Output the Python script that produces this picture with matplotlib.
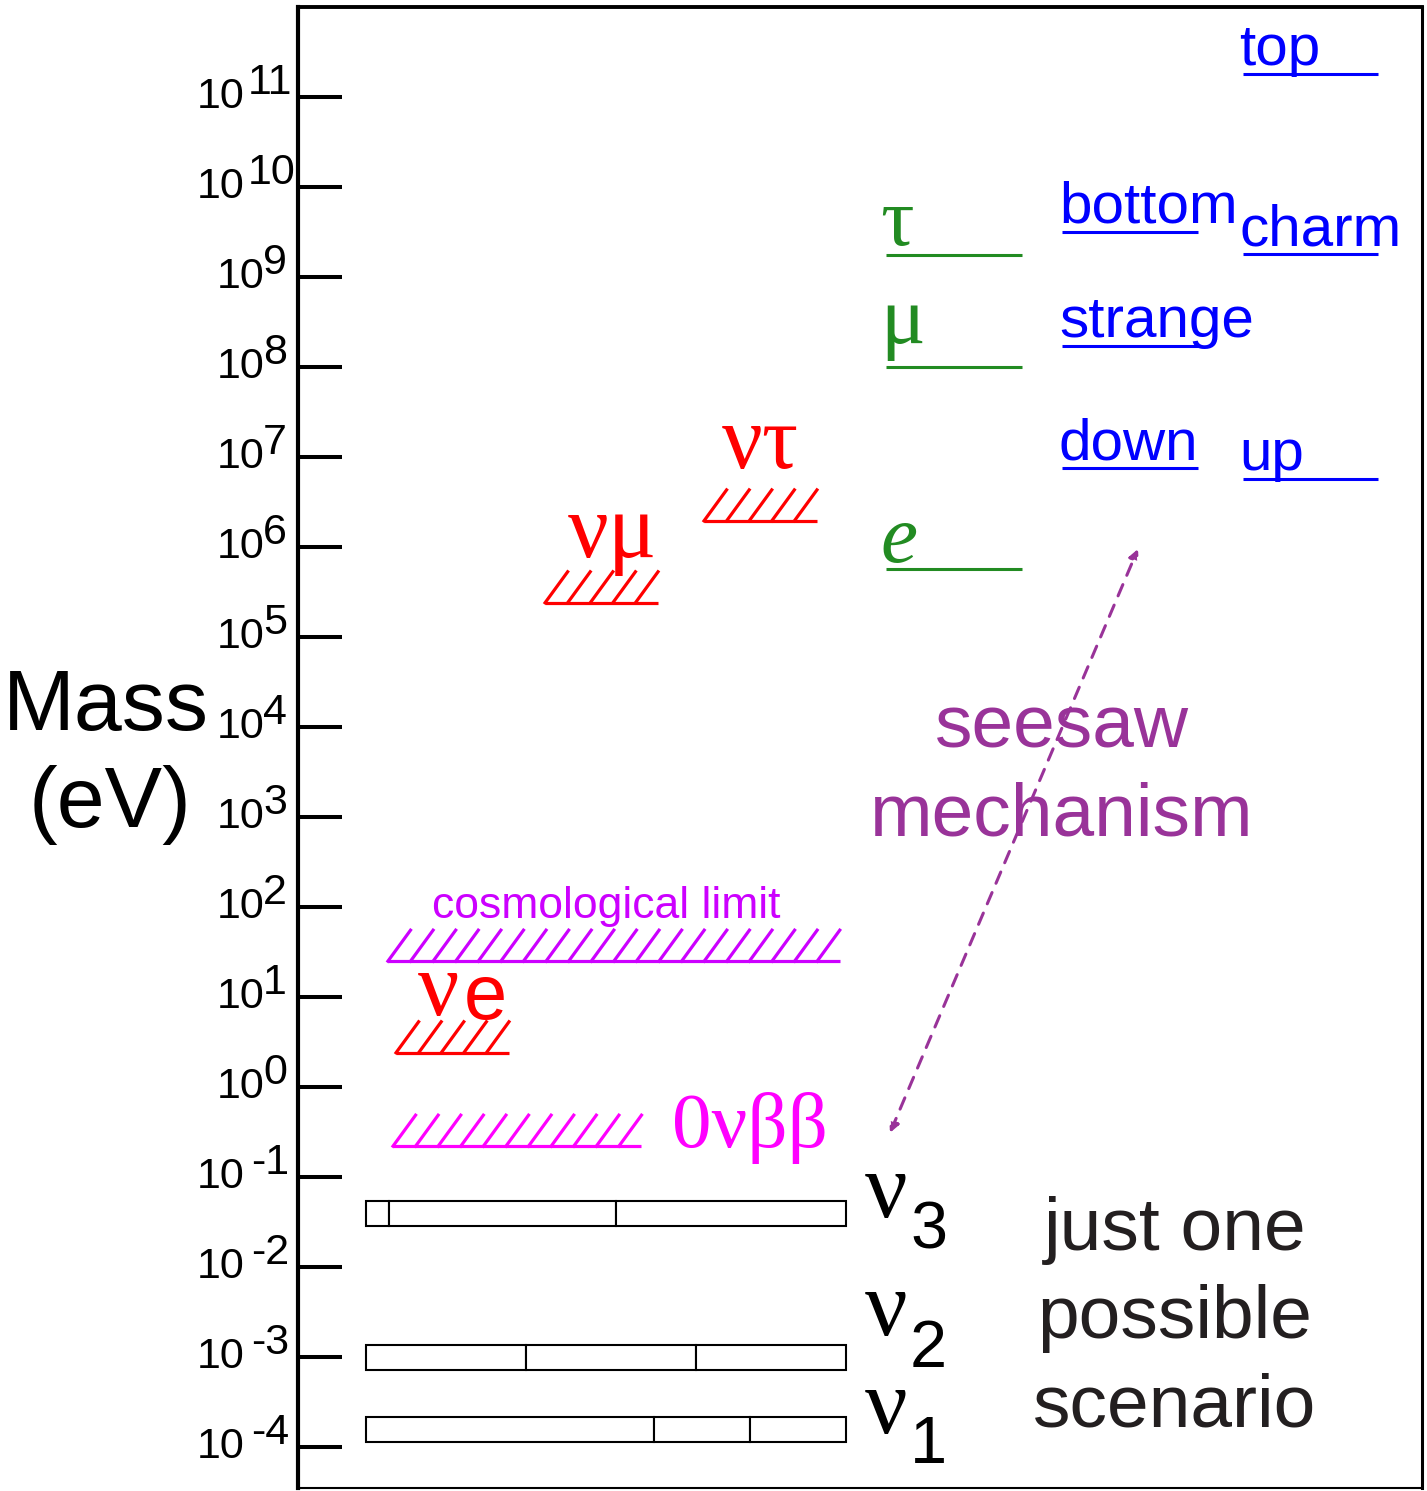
import matplotlib
matplotlib.use("Agg")
import matplotlib.pyplot as plt
from matplotlib.ticker import NullLocator

SANS = "Liberation Sans"
SERIF = "Liberation Serif"
PT = 72 / 100  # points per pixel at dpi=100

# y ticks, one per decade (eV)
decades = list(range(-4, 12))

# light neutrino mass states (eV) with flavour content (e, mu, tau)
nu_names = ["3", "2", "1"]
nu_masses = [0.039, 0.00098, 0.000155]
nu_fractions = [[0.048, 0.473, 0.479],
                [0.333, 0.354, 0.313],
                [0.60, 0.20, 0.20]]

# experimental upper limits (eV)
cosmo_limit = 25.0
nue_limit = 2.4
bb0nu_limit = 0.22
numu_limit = 2.4e5
nutau_limit = 1.95e6

# charged leptons (eV)
lepton_names = ["τ", "μ", "e"]
lepton_masses = [1.76e9, 1.0e8, 5.7e5]

# quarks (eV)
quark_names = ["top", "bottom", "charm", "strange", "down", "up"]
quark_masses = [1.8e11, 3.2e9, 1.8e9, 1.7e8, 7.5e6, 5.7e6]
quark_column = [1, 0, 1, 0, 0, 1]

# seesaw arrow ends (eV)
seesaw_low = 0.31
seesaw_high = 9.5e5

RED = "#ff0000"
MAGENTA = "#ff00ff"
VIOLET = "#cc00ff"
GREEN = "#228b22"
BLUE = "#0000ff"
PURPLE = "#993399"

fig = plt.figure(figsize=(14.27, 14.91), dpi=100)
ax = fig.add_axes([298 / 1427, 3 / 1491, 1124 / 1427, 1481 / 1491])
ax.set_yscale("log")
ax.set_ylim(10 ** -4.4556, 1e12)
ax.set_xlim(0, 1)
ax.set_xticks([])
ax.set_yticks([10.0 ** k for k in decades])
ax.yaxis.set_minor_locator(NullLocator())
ax.tick_params(axis="y", direction="in", length=31.7, width=2.9, labelleft=False)
ax.spines["left"].set_linewidth(3.0)
ax.spines["top"].set_linewidth(2.8)
ax.spines["right"].set_linewidth(2.2)
ax.spines["bottom"].set_linewidth(1.5)

# tick labels as 10 + raised exponent
for k in decades:
    exp = str(k)
    if k >= 10:
        base_r, exp_l = 245, 248
    elif k >= 0:
        base_r, exp_l = 265, 263
    else:
        base_r, exp_l = 245, 251
    ax.annotate("10", xy=(0, 10.0 ** k), xycoords=("axes fraction", "data"),
                xytext=((base_r - 298) * PT, 0), textcoords="offset points",
                ha="right", va="center", fontsize=31, family=SANS, annotation_clip=False)
    ax.annotate(exp, xy=(0, 10.0 ** k), xycoords=("axes fraction", "data"),
                xytext=((exp_l - 298) * PT, 14 * PT), textcoords="offset points",
                ha="left", va="center", fontsize=31, family=SANS, annotation_clip=False)

ax.text(-0.1708, 0.5118, "Mass", transform=ax.transAxes, ha="center", va="baseline",
        fontsize=62, family=SANS)
ax.text(-0.1673, 0.4463, "(eV)", transform=ax.transAxes, ha="center", va="baseline",
        fontsize=62, family=SANS)

# neutrino mass states as segmented boxes
bar_x0, bar_w = 0.0605, 0.427
half = 10 ** (12.5 / 90)
nu_label_dy = [-3.5, 23, -3]
nu_sub_dy = [-34.5, -9, -33]
for name, m, fr, dy, sdy in zip(nu_names, nu_masses, nu_fractions, nu_label_dy, nu_sub_dy):
    lo, hi = m / half, m * half
    left = bar_x0
    for f in fr:
        ax.bar(left, hi - lo, width=f * bar_w, bottom=lo, align="edge",
               facecolor="white", edgecolor="black", linewidth=1.5)
        left += f * bar_w
    ax.annotate("ν", xy=(0.5045, m), xytext=(0, dy * PT), textcoords="offset points",
                ha="left", va="baseline", fontsize=68, family=SERIF)
    ax.annotate(name, xy=(0.5445, m), xytext=(0, sdy * PT), textcoords="offset points",
                ha="left", va="baseline", fontsize=48, family=SANS)


def limit_mark(x0, n, mass, color):
    step = 0.0201
    rise = 10 ** (31 / 90)
    ax.plot([x0, x0 + n * step], [mass, mass], color=color, lw=2.3,
            solid_capstyle="butt")
    for i in range(n):
        xb = x0 + i * step
        ax.plot([xb, xb + step], [mass, mass * rise], color=color, lw=2.3)


limit_mark(0.0800, 20, cosmo_limit, VIOLET)
limit_mark(0.0872, 5, nue_limit, RED)
limit_mark(0.0845, 11, bb0nu_limit, MAGENTA)
limit_mark(0.2198, 5, numu_limit, RED)
limit_mark(0.3612, 5, nutau_limit, RED)

ax.annotate("cosmological limit", xy=(0.274, cosmo_limit), xytext=(0, 43 * PT),
            textcoords="offset points", ha="center", va="baseline",
            fontsize=32, family=SANS, color=VIOLET)
ax.annotate("ν", xy=(0.1068, nue_limit), xytext=(0, 38 * PT), textcoords="offset points",
            ha="left", va="baseline", fontsize=66, family=SERIF, color=RED)
ax.annotate("e", xy=(0.1477, nue_limit), xytext=(0, 34 * PT), textcoords="offset points",
            ha="left", va="baseline", fontsize=56, family=SANS, color=RED)
ax.annotate("νμ", xy=(0.2402, numu_limit), xytext=(0, 46 * PT), textcoords="offset points",
            ha="left", va="baseline", fontsize=65, family=SERIF, color=RED)
ax.annotate("ντ", xy=(0.3772, nutau_limit), xytext=(0, 53 * PT), textcoords="offset points",
            ha="left", va="baseline", fontsize=65, family=SERIF, color=RED)
ax.annotate("0νββ", xy=(0.3327, bb0nu_limit), xytext=(0, -1 * PT), textcoords="offset points",
            ha="left", va="baseline", fontsize=57, family=SERIF, color=MAGENTA)

# charged leptons
lepton_dy = [10, 24, 7]
for name, m, dy in zip(lepton_names, lepton_masses, lepton_dy):
    ax.plot([0.5231, 0.6441], [m, m], color=GREEN, lw=2.2, solid_capstyle="butt")
    ax.annotate(name, xy=(0.518, m), xytext=(0, dy * PT), textcoords="offset points",
                ha="left", va="baseline", fontsize=60, family=SERIF, color=GREEN,
                style="italic" if name == "e" else "normal")

# quarks
col_text = [0.6770, 0.8372]
col_line = [(0.6797, 0.8007), (0.8408, 0.9609)]
for name, m, c in zip(quark_names, quark_masses, quark_column):
    ax.plot(col_line[c], [m, m], color=BLUE, lw=2.2, solid_capstyle="butt")
    ax.annotate(name, xy=(col_text[c], m), xytext=(0, 9 * PT), textcoords="offset points",
                ha="left", va="baseline", fontsize=42, family=SANS, color=BLUE)

# seesaw
ax.annotate("", xy=(0.7473, seesaw_high), xytext=(0.5267, seesaw_low),
            arrowprops=dict(arrowstyle="<|-|>", color=PURPLE, lw=2.2,
                            linestyle=(0, (4, 3.3)), mutation_scale=14,
                            shrinkA=0, shrinkB=0))
ax.text(0.6797, 0.5003, "seesaw", transform=ax.transAxes, ha="center", va="baseline",
        fontsize=54, family=SANS, color=PURPLE)
ax.text(0.6797, 0.4409, "mechanism", transform=ax.transAxes, ha="center", va="baseline",
        fontsize=54, family=SANS, color=PURPLE)

for txt, yb in zip(["just one", "possible", "scenario"], [0.1607, 0.1013, 0.0412]):
    ax.text(0.7802, yb, txt, transform=ax.transAxes, ha="center", va="baseline",
            fontsize=54, family=SANS, color="#231f20")

fig.savefig("out.png", dpi=100)
